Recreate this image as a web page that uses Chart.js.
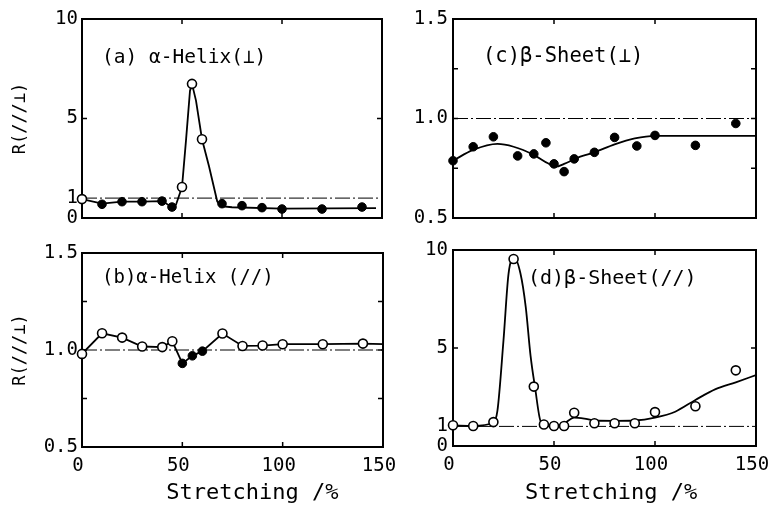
<!DOCTYPE html>
<html>
<head>
<meta charset="utf-8">
<script src="https://cdn.jsdelivr.net/npm/chart.js@4.4.0/dist/chart.umd.min.js"></script>
<style>
  body { margin: 0; background: #fff; width: 773px; height: 506px; position: relative; overflow: hidden; }
  canvas { position: absolute; }
</style>
</head>
<body>
<canvas id="chartA" width="400" height="225" style="left:0;top:0"></canvas>
<canvas id="chartB" width="400" height="276" style="left:0;top:230px"></canvas>
<canvas id="chartC" width="383" height="225" style="left:390px;top:0"></canvas>
<canvas id="chartD" width="383" height="276" style="left:390px;top:230px"></canvas>
<script>
var xTickLabels = [0, 50, 100, 150];
var wideTickLabels = [0, 1, 5, 10];
var narrowTickLabels = [0.5, 1.0, 1.5];

// (a) alpha-helix, perpendicular; 'o' = open circle, 'f' = filled
var helixPerpX = [0, 10, 20, 30, 40, 45, 50, 55, 60, 70, 80, 90, 100, 120, 140];
var helixPerpR = [0.95, 0.69, 0.82, 0.82, 0.85, 0.55, 1.56, 6.74, 3.96, 0.72, 0.62, 0.52, 0.45, 0.45, 0.55];
var helixPerpKind = ['o', 'f', 'f', 'f', 'f', 'f', 'o', 'o', 'o', 'f', 'f', 'f', 'f', 'f', 'f'];
var helixPerpCurveX = [0, 10, 20, 30, 40, 45, 47, 50, 52, 54, 55, 57, 60, 63.5, 67.6, 69.3, 75, 100, 147];
var helixPerpCurveR = [0.95, 0.72, 0.82, 0.82, 0.85, 0.55, 0.67, 1.56, 3.9, 6.4, 6.74, 5.9, 3.96, 2.6, 0.84, 0.59, 0.54, 0.47, 0.5];

// (b) alpha-helix, parallel
var helixParX = [0, 10, 20, 30, 40, 45, 50, 55, 60, 70, 80, 90, 100, 120, 140];
var helixParR = [0.98, 1.086, 1.064, 1.018, 1.015, 1.045, 0.931, 0.97, 0.994, 1.085, 1.021, 1.023, 1.03, 1.03, 1.033];
var helixParKind = ['o', 'o', 'o', 'o', 'o', 'o', 'f', 'f', 'f', 'o', 'o', 'o', 'o', 'o', 'o'];
var helixParCurveX = [0, 10, 20, 30, 40, 45, 50, 55, 60, 70, 80, 90, 100, 120, 140, 150];
var helixParCurveR = [0.98, 1.086, 1.064, 1.018, 1.015, 1.045, 0.931, 0.97, 0.994, 1.085, 1.021, 1.023, 1.03, 1.03, 1.033, 1.03];

// (c) beta-sheet, perpendicular
var sheetPerpX = [0, 10, 20, 32, 40, 46, 50, 55, 60, 70, 80, 91, 100, 120, 140];
var sheetPerpR = [0.788, 0.858, 0.908, 0.812, 0.822, 0.878, 0.772, 0.733, 0.797, 0.83, 0.905, 0.862, 0.915, 0.865, 0.975];
var sheetPerpKind = ['f', 'f', 'f', 'f', 'f', 'f', 'f', 'f', 'f', 'f', 'f', 'f', 'f', 'f', 'f'];
var sheetPerpCurveX = [0, 10, 22, 30, 40, 47, 51, 55, 63, 70, 80, 90, 100, 151];
var sheetPerpCurveR = [0.788, 0.842, 0.872, 0.858, 0.817, 0.775, 0.758, 0.772, 0.808, 0.83, 0.87, 0.9, 0.913, 0.913];

// (d) beta-sheet, parallel
var sheetParX = [0, 10, 20, 30, 40, 45, 50, 55, 60, 70, 80, 90, 100, 120, 140];
var sheetParR = [1.06, 1.02, 1.22, 9.54, 3.03, 1.1, 1.02, 1.02, 1.7, 1.16, 1.16, 1.16, 1.73, 2.03, 3.86];
var sheetParKind = ['o', 'o', 'o', 'o', 'o', 'o', 'o', 'o', 'o', 'o', 'o', 'o', 'o', 'o', 'o'];
var sheetParCurveX = [0, 10, 20, 22, 25, 27.5, 30.4, 33.4, 36, 38.4, 40.6, 43.4, 45.5, 50, 55, 60, 65, 70, 80, 90, 100, 110, 120, 130, 140, 150];
var sheetParCurveR = [1.05, 1.03, 1.2, 1.8, 5.4, 8.8, 9.6, 8.8, 7.1, 4.6, 3.0, 1.25, 1.1, 1.0, 1.15, 1.45, 1.4, 1.3, 1.28, 1.3, 1.45, 1.75, 2.35, 2.9, 3.25, 3.62];

var mono = "'DejaVu Sans Mono', monospace";

function pairs(xs, ys) {
  return xs.map(function(x, i) { return {x: x, y: ys[i]}; });
}

function markers(xs, ys, kinds, kind) {
  var pts = [];
  for (var i = 0; i < xs.length; i++) {
    if (kinds[i] == kind) pts.push({x: xs[i], y: ys[i]});
  }
  return pts;
}

// box around the plot area, inward tick marks and the panel caption
var framePlugin = {
  id: 'frame',
  beforeDatasetsDraw: function(chart, args, opts) {
    var a = chart.chartArea, ctx = chart.ctx;
    var xs = chart.scales.x, ys = chart.scales.y;
    ctx.save();
    ctx.strokeStyle = '#000';
    ctx.lineWidth = 2;
    ctx.strokeRect(a.left, a.top, a.right - a.left, a.bottom - a.top);
    ctx.lineWidth = 1.5;
    ctx.beginPath();
    opts.xTicks.forEach(function(v) {
      var px = xs.getPixelForValue(v);
      ctx.moveTo(px, a.top); ctx.lineTo(px, a.top + 5);
      ctx.moveTo(px, a.bottom); ctx.lineTo(px, a.bottom - 5);
    });
    opts.yTicks.forEach(function(v) {
      var py = ys.getPixelForValue(v);
      ctx.moveTo(a.left, py); ctx.lineTo(a.left + 5, py);
      ctx.moveTo(a.right, py); ctx.lineTo(a.right - 5, py);
    });
    ctx.stroke();
    ctx.fillStyle = '#000';
    ctx.font = opts.captionSize + 'px ' + mono;
    ctx.textBaseline = 'alphabetic';
    ctx.fillText(opts.caption, a.left + opts.captionAt[0], a.top + opts.captionAt[1]);
    ctx.restore();
  }
};

function panel(id, p) {
  var ctx = document.getElementById(id);
  return new Chart(ctx, {
    type: 'scatter',
    data: {
      datasets: [
        {data: markers(p.x, p.r, p.kind, 'o'), pointRadius: 4.5, pointBackgroundColor: '#fff',
         pointBorderColor: '#000', pointBorderWidth: 1.6, clip: false, order: 1},
        {data: markers(p.x, p.r, p.kind, 'f'), pointRadius: 4.3, pointBackgroundColor: '#000',
         pointBorderColor: '#000', pointBorderWidth: 1, clip: false, order: 1},
        {data: pairs(p.curveX, p.curveR), showLine: true, pointRadius: 0, borderColor: '#000',
         borderWidth: 1.8, cubicInterpolationMode: p.smooth ? 'monotone' : 'default', tension: 0, order: 2},
        {data: [{x: 0, y: 1}, {x: 150, y: 1}], showLine: true, pointRadius: 0, borderColor: '#000',
         borderWidth: 1, borderDash: [15, 3, 2, 3], order: 3}
      ]
    },
    options: {
      responsive: false,
      animation: false,
      events: [],
      layout: {autoPadding: false, padding: p.pad},
      plugins: {
        legend: {display: false},
        tooltip: {enabled: false},
        frame: {xTicks: [50, 100], yTicks: p.innerTicks, caption: p.caption,
                captionAt: p.captionAt, captionSize: p.captionSize}
      },
      scales: {
        x: {
          type: 'linear', min: 0, max: 150,
          afterBuildTicks: function(s) { s.ticks = xTickLabels.map(function(v) { return {value: v}; }); },
          afterFit: function(s) {
            s.height = p.xHeight;
            // end labels may hang past the frame; keep the plot width fixed
            s.paddingLeft = 0;
            s.paddingRight = 0;
          },
          grid: {display: false, drawTicks: false},
          border: {display: false},
          ticks: {display: p.showX, autoSkip: false, maxRotation: 0, padding: 8, labelOffset: -4,
                  color: '#000', font: {family: mono, size: 19}},
          title: {display: p.showX, text: p.xTitle, color: '#000', padding: {top: 0, bottom: 0},
                  font: {family: mono, size: 22}}
        },
        y: {
          type: 'linear', min: p.yMin, max: p.yMax,
          afterBuildTicks: function(s) { s.ticks = p.yLabels.map(function(v) { return {value: v}; }); },
          afterFit: function(s) {
            s.width = p.yWidth;
            s.paddingTop = 0;
            s.paddingBottom = 0;
          },
          grid: {display: false, drawTicks: false},
          border: {display: false},
          ticks: {autoSkip: false, padding: p.yPad, color: '#000', font: {family: mono, size: 19},
                  callback: function(v) { return p.decimals ? v.toFixed(1) : String(v); }},
          title: {display: p.showY, text: 'R(///\u22a5)', color: '#000', padding: {top: 10, bottom: 0},
                  font: {family: mono, size: 17}}
        }
      }
    },
    plugins: [framePlugin]
  });
}

panel('chartA', {
  x: helixPerpX, r: helixPerpR, kind: helixPerpKind, curveX: helixPerpCurveX, curveR: helixPerpCurveR,
  smooth: false, yMin: 0, yMax: 10, yLabels: wideTickLabels, decimals: false, innerTicks: [5],
  caption: '(a) \u03b1-Helix(\u22a5)', captionAt: [20, 44], captionSize: 19.5,
  pad: {left: 0, top: 19, right: 18, bottom: 0}, xHeight: 7, yWidth: 82, yPad: 4,
  showX: false, showY: true, xTitle: ''
});

panel('chartB', {
  x: helixParX, r: helixParR, kind: helixParKind, curveX: helixParCurveX, curveR: helixParCurveR,
  smooth: false, yMin: 0.5, yMax: 1.5, yLabels: narrowTickLabels, decimals: true, innerTicks: [0.75, 1.0, 1.25],
  caption: '(b)\u03b1-Helix (//)', captionAt: [20, 30], captionSize: 19,
  pad: {left: 0, top: 23, right: 17, bottom: 0}, xHeight: 59, yWidth: 82, yPad: 4,
  showX: true, showY: true, xTitle: '   Stretching /%'
});

panel('chartC', {
  x: sheetPerpX, r: sheetPerpR, kind: sheetPerpKind, curveX: sheetPerpCurveX, curveR: sheetPerpCurveR,
  smooth: true, yMin: 0.5, yMax: 1.5, yLabels: narrowTickLabels, decimals: true, innerTicks: [0.75, 1.0, 1.25],
  caption: '(c)\u03b2-Sheet(\u22a5)', captionAt: [30, 43], captionSize: 20.5,
  pad: {left: 0, top: 19, right: 17, bottom: 0}, xHeight: 7, yWidth: 63, yPad: 5,
  showX: false, showY: false, xTitle: ''
});

panel('chartD', {
  x: sheetParX, r: sheetParR, kind: sheetParKind, curveX: sheetParCurveX, curveR: sheetParCurveR,
  smooth: true, yMin: 0, yMax: 10, yLabels: wideTickLabels, decimals: false, innerTicks: [5],
  caption: '(d)\u03b2-Sheet(//)', captionAt: [75, 34], captionSize: 20,
  pad: {left: 0, top: 20, right: 17, bottom: 0}, xHeight: 60, yWidth: 63, yPad: 5,
  showX: true, showY: false, xTitle: ' Stretching /%'
});
</script>
</body>
</html>
